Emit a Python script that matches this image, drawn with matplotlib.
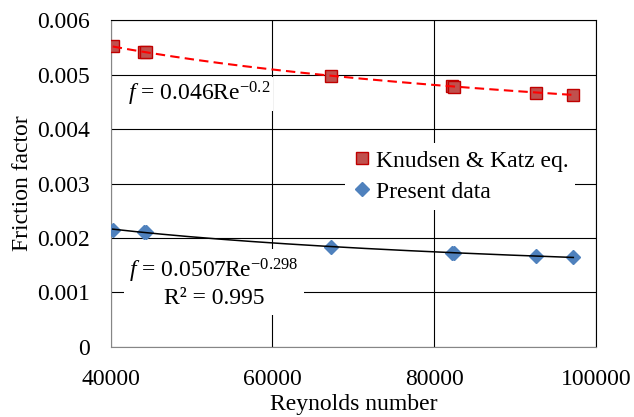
import numpy as np
import matplotlib
matplotlib.use("Agg")
import matplotlib.pyplot as plt

plt.rcParams["font.family"] = ["Liberation Serif", "DejaVu Serif"]
plt.rcParams["mathtext.fontset"] = "custom"
plt.rcParams["mathtext.rm"] = "Liberation Serif"
plt.rcParams["mathtext.it"] = "Liberation Serif:italic"

# Reynolds numbers
re_vals = [40250, 44100, 44350, 67300, 82200, 82450, 92600, 97200]
# Knudsen & Katz correlation values
f_kk = [0.00552, 0.00542, 0.00541, 0.00498, 0.00479, 0.00478, 0.00467, 0.00463]
# measured friction factors
f_present = [0.00215, 0.00211, 0.00210, 0.00184, 0.00173, 0.00172, 0.00167, 0.00164]

xticks = [40000, 60000, 80000, 100000]
yticks = [0, 0.001, 0.002, 0.003, 0.004, 0.005, 0.006]
ytick_labels = ["0", "0.001", "0.002", "0.003", "0.004", "0.005", "0.006"]

FS = 17

fig = plt.figure(figsize=(6.34, 4.17), dpi=100)
ax = fig.add_axes([0.1746, 0.1686, 0.7654, 0.7827])

re = np.array(re_vals, dtype=float)


def power_fit(x, y):
    b, a = np.polyfit(np.log(x), np.log(y), 1)
    xs = np.linspace(x.min(), x.max(), 200)
    return xs, np.exp(a) * xs ** b


ax.plot(re, f_kk, "s", ms=9, mfc="#C0504D", mec="#C00000", mew=1,
        ls="none", label="Knudsen & Katz eq.", zorder=3)
ax.plot(re, f_present, "D", ms=7.5, mfc="#4F81BD", mec="#4F81BD",
        ls="none", label="Present data", zorder=3)

xs, ys = power_fit(re, np.array(f_kk))
ax.plot(xs, ys, color="red", lw=1.5, dashes=(4.5, 2.5), zorder=4)
xs, ys = power_fit(re, np.array(f_present))
ax.plot(xs, ys, color="black", lw=1.1, zorder=4)

ax.set_xlim(40000, 100000)
ax.set_ylim(0, 0.006)
ax.set_xticks(xticks)
ax.set_xticklabels([str(t) for t in xticks])
ax.set_yticks(yticks)
ax.set_yticklabels(ytick_labels)
ax.tick_params(axis="both", length=0, labelsize=FS)
ax.tick_params(axis="y", pad=15)
ax.tick_params(axis="x", pad=16)
ax.grid(True, color="black", lw=0.8, zorder=1)
ax.set_axisbelow(True)
for side in ["left", "bottom"]:
    ax.spines[side].set_color("#868686")
    ax.spines[side].set_linewidth(0.8)
for side in ["top", "right"]:
    ax.spines[side].set_color("black")
    ax.spines[side].set_linewidth(0.8)

ax.set_xlabel("Reynolds number", fontsize=FS, labelpad=3)
ax.set_ylabel("Friction factor", fontsize=FS, labelpad=3)

ax.text(0.035, 0.775, r"$f$ = 0.046Re$^{\mathrm{-0.2}}$", transform=ax.transAxes,
        fontsize=FS, ha="left", va="center", zorder=5,
        bbox=dict(facecolor="white", edgecolor="none", pad=2))
ax.text(0.213, 0.195, "$f$ = 0.0507Re$^{\\mathrm{-0.298}}$\nR² = 0.995",
        transform=ax.transAxes, fontsize=FS, ha="center", va="center",
        multialignment="center", linespacing=1.15, zorder=5,
        bbox=dict(facecolor="white", edgecolor="none", pad=4))

leg = ax.legend(loc="upper left", bbox_to_anchor=(0.483, 0.624), borderaxespad=0,
                fontsize=FS, frameon=True, fancybox=False, handlelength=0.8,
                handletextpad=0.2, borderpad=0.3, labelspacing=0.4)
leg.get_frame().set_edgecolor("none")
leg.get_frame().set_facecolor("white")
leg.get_frame().set_alpha(1)
leg.set_zorder(6)

fig.savefig("out.png", dpi=100)
